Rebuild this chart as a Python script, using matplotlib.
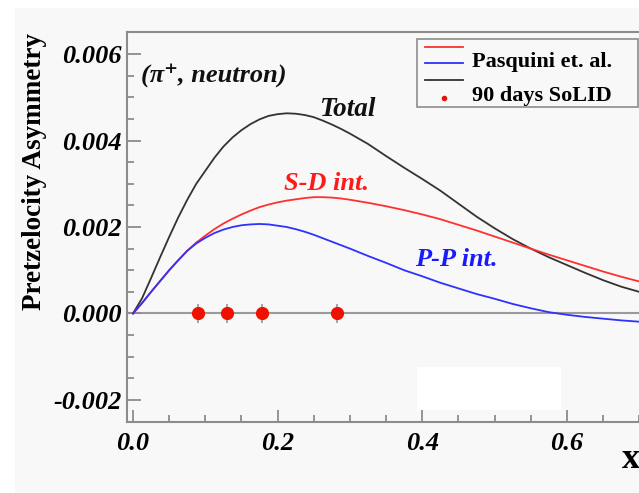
import numpy as np
import matplotlib
matplotlib.use('Agg')
import matplotlib.pyplot as plt
from matplotlib.patches import Rectangle
from matplotlib.lines import Line2D
from matplotlib.font_manager import FontProperties

plt.rcParams['font.family'] = ['Liberation Serif', 'DejaVu Serif']

# =======================================================
# Curves (Pasquini et al.)
x = [0.0, 0.0125, 0.025, 0.0375, 0.05, 0.0625, 0.075, 0.0875, 0.1, 0.1125,
     0.125, 0.1375, 0.15, 0.1625, 0.175, 0.1875, 0.2, 0.2125, 0.225, 0.2375,
     0.25, 0.2625, 0.275, 0.2875, 0.3, 0.325, 0.35, 0.375, 0.4, 0.425, 0.45,
     0.475, 0.5, 0.525, 0.55, 0.575, 0.6, 0.625, 0.65, 0.675, 0.7, 0.72]
total = [0.0, 0.00035, 0.00082, 0.0013, 0.00177, 0.00222, 0.00263, 0.003,
         0.0033, 0.0036, 0.00386, 0.00407, 0.00424, 0.00438, 0.00449, 0.00457,
         0.00461, 0.00463, 0.00462, 0.00459, 0.00454, 0.00446, 0.00437,
         0.00427, 0.00416, 0.00392, 0.00364, 0.00337, 0.00311, 0.00284,
         0.00254, 0.00224, 0.00197, 0.00172, 0.0015, 0.0013, 0.00112, 0.00094,
         0.00077, 0.00062, 0.0005, 0.00042]
sd_int = [0.0, 0.00024, 0.0005, 0.00075, 0.001, 0.00123, 0.00145, 0.00164,
          0.0018, 0.00195, 0.00208, 0.00219, 0.00229, 0.00238, 0.00246,
          0.00252, 0.00257, 0.00261, 0.00264, 0.00267, 0.00269, 0.00269,
          0.00268, 0.00266, 0.00263, 0.00256, 0.00248, 0.00239, 0.00229,
          0.00218, 0.00205, 0.00192, 0.00178, 0.00164, 0.0015, 0.00136,
          0.00123, 0.0011, 0.00097, 0.00085, 0.00074, 0.00066]
pp_int = [0.0, 0.00024, 0.0005, 0.00075, 0.001, 0.00123, 0.00145, 0.00162,
          0.00175, 0.00186, 0.00194, 0.002, 0.00204, 0.00206, 0.00207,
          0.00206, 0.00203, 0.002, 0.00195, 0.00189, 0.00182, 0.00174,
          0.00166, 0.00158, 0.0015, 0.00133, 0.00117, 0.001, 0.00086, 0.00071,
          0.00058, 0.00045, 0.00034, 0.00022, 0.00012, 0.00003, -0.00003,
          -0.00008, -0.00012, -0.00016, -0.00019, -0.00021]

# 90 days SoLID projection
x_solid = [0.090, 0.130, 0.178, 0.282]
y_solid = [0.0, 0.0, 0.0, 0.0]
err_solid = [0.00023, 0.00023, 0.00023, 0.00023]

xticks = [0.0, 0.2, 0.4, 0.6]
xticklabels = ['0.0', '0.2', '0.4', '0.6']
yticks = [-0.002, 0.0, 0.002, 0.004, 0.006]
yticklabels = ['-0.002', '0.000', '0.002', '0.004', '0.006']

W, H = 639, 493
fig = plt.figure(figsize=(W / 100, H / 100), dpi=100)
fig.patch.set_facecolor('white')

def fx(px):
    return px / W

def fy(py):
    return 1 - py / H

# light grey canvas
fig.patches.append(Rectangle((fx(15), 0), 1, fy(8), transform=fig.transFigure,
                             facecolor='#f8f8f8', edgecolor='none', zorder=-1))

ax = fig.add_axes([fx(127), fy(422), (711.6 - 127) / W, (422 - 32) / H])
ax.set_facecolor('#f8f8f8')
ax.set_xlim(-0.0083, 0.8)
ax.set_ylim(-0.00251, 0.00651)

ax.axhline(0, color='#9a9a9a', lw=1.5, zorder=1)
ax.plot(x, total, color='#333333', lw=1.3, zorder=3)
ax.plot(x, sd_int, color='#ff3030', lw=1.3, zorder=3)
ax.plot(x, pp_int, color='#3030ff', lw=1.3, zorder=3)
ax.errorbar(x_solid, y_solid, yerr=err_solid, fmt='o', color='#ee1100',
            ms=8.5, ecolor='#999999', elinewidth=1.2, capsize=0, zorder=4)

# axis styling
for s in ax.spines.values():
    s.set_color('#8c8c8c')
    s.set_linewidth(1.5)
ax.tick_params(which='both', direction='in', color='#8c8c8c', width=1.3)
ax.tick_params(axis='y', which='major', length=10, pad=4)
ax.tick_params(axis='y', which='minor', length=5)
ax.tick_params(axis='x', which='major', length=9, pad=7)
ax.tick_params(axis='x', which='minor', length=5)
ax.set_xticks(xticks)
ax.set_xticklabels(xticklabels)
ax.set_xticks(np.arange(0, 0.81, 0.05), minor=True)
ax.set_yticks(yticks)
ax.set_yticklabels(yticklabels)
ax.set_yticks(np.arange(-0.0025, 0.0066, 0.0005), minor=True)
tick_fp = FontProperties(family='Liberation Serif', style='italic',
                         weight='bold', size=19)
for lab in ax.get_xticklabels() + ax.get_yticklabels():
    lab.set_fontproperties(tick_fp)

fig.text(fx(35), fy(33), 'Pretzelocity Asymmetry', rotation=90, ha='center',
         va='top', fontsize=19.5, fontweight='bold')
fig.text(fx(622), fy(459), 'x', ha='left', va='center', fontsize=26,
         fontweight='bold')

# curve labels
bi = dict(fontweight='bold', fontstyle='italic', ha='center', va='center')
fig.text(fx(214), fy(75), '(π⁺, neutron)', fontsize=19, color='#111111', **bi)
fig.text(fx(347), fy(110), 'Total', fontsize=19.5, color='#111111', **bi)
fig.text(fx(326), fy(183), 'S-D int.', fontsize=19, color='#ff1a1a', **bi)
fig.text(fx(456), fy(259), 'P-P int.', fontsize=19, color='#1a1aff', **bi)

# legend box (drawn like the original)
fig.patches.append(Rectangle((fx(417), fy(107)), fx(638) - fx(417), fy(39) - fy(107),
                             transform=fig.transFigure, facecolor='#f8f8f8',
                             edgecolor='#8c8c8c', lw=1.2, zorder=5))
for py, c in [(47, '#ff3030'), (63, '#3030ff'), (80, '#333333')]:
    fig.lines.append(Line2D([fx(425), fx(463)], [fy(py), fy(py)], color=c, lw=1.3,
                            transform=fig.transFigure, zorder=6))
fig.lines.append(Line2D([fx(444)], [fy(98)], marker='o', ms=3, color='#ee1100',
                        transform=fig.transFigure, zorder=6))
fig.text(fx(472), fy(62), 'Pasquini et. al.', fontsize=16, fontweight='bold',
         va='center', zorder=7)
fig.text(fx(472), fy(96), '90 days SoLID', fontsize=16, fontweight='bold',
         va='center', zorder=7)

# white patch over the lower right
fig.patches.append(Rectangle((fx(417), fy(410)), fx(561) - fx(417), fy(367) - fy(410),
                             transform=fig.transFigure, facecolor='white',
                             edgecolor='none', zorder=5))

fig.savefig('out.png', dpi=100)
